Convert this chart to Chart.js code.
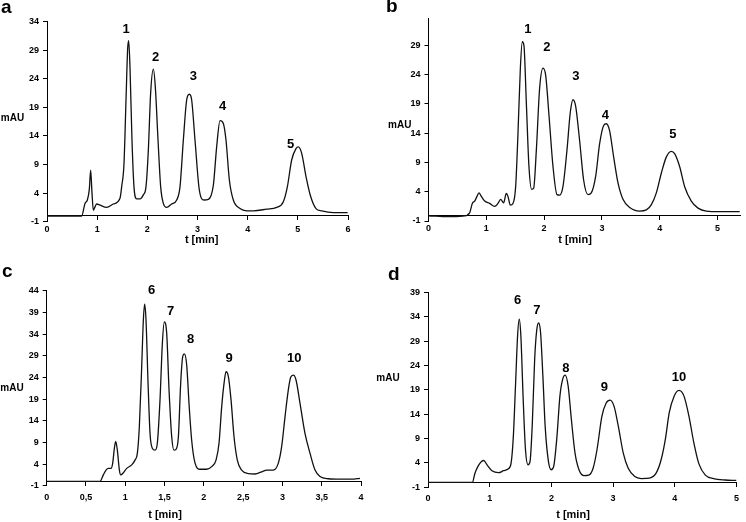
<!DOCTYPE html>
<html>
<head>
<meta charset="utf-8">
<script src="https://cdn.jsdelivr.net/npm/chart.js@4/dist/chart.umd.min.js"></script>
<style>
  body { margin: 0; background: #fff; }
  #wrap { position: relative; width: 746px; height: 522px; }
  canvas { position: absolute; }
</style>
</head>
<body>
<div id="wrap">
  <canvas id="panelA" width="373" height="255" style="left:0;top:0"></canvas>
  <canvas id="panelB" width="373" height="255" style="left:373px;top:0"></canvas>
  <canvas id="panelC" width="373" height="267" style="left:0;top:255px"></canvas>
  <canvas id="panelD" width="373" height="267" style="left:373px;top:255px"></canvas>
</div>
<script>
// chromatogram traces (t in min, signal in mAU)
const timeA = [0, 0.69, 0.757, 0.804, 0.844, 0.87, 0.897, 0.924, 0.957, 0.99, 1.056, 1.189, 1.322, 1.455, 1.488, 1.535, 1.575, 1.608, 1.628, 1.654, 1.694, 1.734, 1.787, 1.854, 1.92, 1.973, 2.02, 2.066, 2.12, 2.159, 2.213, 2.266, 2.319, 2.385, 2.485, 2.585, 2.651, 2.718, 2.784, 2.837, 2.884, 2.95, 3.037, 3.13, 3.216, 3.316, 3.382, 3.449, 3.515, 3.568, 3.635, 3.714, 3.847, 3.98, 4.113, 4.379, 4.578, 4.711, 4.791, 4.877, 4.963, 5.01, 5.076, 5.163, 5.256, 5.362, 5.475, 5.708, 5.993];
const mauA = [0, 0, 2.2, 2.8, 4.7, 8.0, 4.0, 1.0, 1.6, 2.1, 1.9, 1.5, 2.1, 3.1, 5.1, 9.2, 20.3, 29.3, 30.7, 26.1, 13.3, 5.1, 3.0, 3.0, 3.7, 5.1, 11.5, 21.5, 25.7, 22.6, 13.3, 5.1, 2.2, 1.5, 2.1, 2.8, 5.1, 13.3, 20.3, 21.3, 20.3, 13.3, 4.5, 2.8, 2.9, 5.4, 12.1, 16.7, 16.2, 13.3, 6.3, 2.8, 1.3, 0.9, 0.9, 1.2, 1.5, 2.5, 5.1, 9.8, 11.8, 12.1, 11.0, 6.9, 3.4, 1.3, 0.9, 0.6, 0.6];

const timeB = [0, 0.35, 0.6, 0.712, 0.758, 0.799, 0.839, 0.874, 0.914, 0.972, 1.058, 1.145, 1.202, 1.249, 1.3, 1.346, 1.375, 1.416, 1.462, 1.508, 1.548, 1.589, 1.623, 1.652, 1.692, 1.738, 1.785, 1.82, 1.866, 1.923, 1.981, 2.027, 2.085, 2.154, 2.223, 2.269, 2.327, 2.396, 2.454, 2.5, 2.546, 2.615, 2.684, 2.76, 2.817, 2.892, 2.961, 3.031, 3.077, 3.134, 3.204, 3.279, 3.365, 3.481, 3.654, 3.769, 3.856, 3.942, 4.029, 4.114, 4.201, 4.259, 4.345, 4.431, 4.547, 4.663, 4.807, 5.038, 5.384];
const mauB = [-0.1, -0.25, -0.15, 0.4, 2.0, 2.4, 3.2, 3.8, 3.2, 2.4, 2.0, 1.5, 2.0, 2.7, 2.1, 3.7, 3.2, 1.7, 2.0, 4.9, 13.9, 25.0, 29.6, 28.9, 19.4, 8.3, 4.4, 4.6, 11.1, 21.7, 25.1, 23.9, 17.0, 8.3, 3.5, 3.4, 4.9, 11.1, 17.6, 19.7, 18.6, 12.7, 6.0, 3.5, 3.8, 6.6, 12.2, 15.3, 15.6, 14.4, 9.9, 5.5, 2.7, 1.3, 0.7, 0.9, 1.8, 3.8, 7.2, 9.9, 10.9, 10.5, 8.3, 4.9, 2.4, 1.2, 0.7, 0.6, 0.6];

const timeC = [0, 0.679, 0.721, 0.755, 0.785, 0.819, 0.84, 0.861, 0.878, 0.899, 0.925, 0.942, 0.976, 1.018, 1.082, 1.124, 1.154, 1.179, 1.209, 1.23, 1.247, 1.264, 1.29, 1.315, 1.345, 1.379, 1.408, 1.442, 1.472, 1.497, 1.527, 1.557, 1.591, 1.62, 1.646, 1.676, 1.705, 1.731, 1.752, 1.782, 1.811, 1.845, 1.888, 1.951, 2.036, 2.1, 2.155, 2.193, 2.227, 2.257, 2.282, 2.312, 2.346, 2.384, 2.426, 2.481, 2.566, 2.651, 2.736, 2.8, 2.884, 2.948, 2.99, 3.033, 3.075, 3.105, 3.139, 3.173, 3.224, 3.287, 3.351, 3.415, 3.478, 3.584, 3.733, 3.881, 3.987];
const mauC = [0, 0, 1.5, 2.6, 3.0, 3.0, 4.2, 7.6, 9.2, 7.2, 2.6, 1.5, 2.0, 3.0, 3.8, 4.9, 6.5, 12.6, 26.5, 37.2, 40.9, 37.2, 22.6, 11.1, 7.6, 7.2, 8.8, 18.8, 31.8, 36.8, 34.2, 21.1, 10.3, 7.2, 7.4, 10.3, 22.6, 28.8, 29.4, 26.8, 18.0, 9.5, 4.2, 2.8, 2.8, 3.4, 4.9, 8.8, 17.2, 22.6, 25.3, 24.2, 18.8, 10.3, 4.9, 2.6, 1.8, 1.7, 2.2, 2.6, 2.6, 4.2, 8.0, 14.9, 21.1, 24.0, 24.5, 23.4, 18.0, 11.1, 6.5, 2.6, 1.1, 0.6, 0.5, 0.5, 0.7];

const timeD = [0, 0.718, 0.761, 0.814, 0.867, 0.904, 0.957, 1.037, 1.144, 1.223, 1.303, 1.346, 1.383, 1.42, 1.452, 1.479, 1.505, 1.543, 1.58, 1.622, 1.654, 1.691, 1.729, 1.761, 1.793, 1.824, 1.862, 1.899, 1.952, 1.995, 2.037, 2.09, 2.138, 2.181, 2.223, 2.271, 2.324, 2.383, 2.447, 2.527, 2.606, 2.676, 2.739, 2.819, 2.888, 2.952, 3.016, 3.085, 3.165, 3.245, 3.351, 3.457, 3.59, 3.697, 3.777, 3.846, 3.91, 3.989, 4.069, 4.149, 4.229, 4.309, 4.388, 4.495, 4.628, 4.814, 5.0];
const mauD = [0, 0, 1.9, 3.4, 4.3, 4.5, 3.6, 2.4, 2.0, 2.4, 2.8, 3.9, 9.4, 20.4, 30.1, 33.5, 30.1, 17.0, 6.7, 3.6, 4.3, 12.2, 25.3, 31.1, 32.7, 30.8, 21.8, 11.5, 4.3, 2.6, 3.3, 9.4, 17.7, 21.1, 22.0, 19.8, 12.9, 6.0, 2.6, 1.4, 1.5, 2.9, 6.7, 13.6, 16.3, 16.9, 15.6, 11.5, 6.0, 2.9, 1.2, 0.8, 0.9, 1.9, 4.6, 8.8, 14.3, 17.7, 18.9, 17.7, 13.6, 8.1, 3.9, 1.5, 0.8, 0.5, 0.4];

// peak numbers and where their labels sit (t, mAU)
const peaksAB = ['1', '2', '3', '4', '5'];
const peaksCD = ['6', '7', '8', '9', '10'];
const peakTimeA = [1.575, 2.166, 2.916, 3.502, 4.857];
const peakMauA = [32.7, 27.7, 24.5, 19.25, 12.6];
const peakTimeB = [1.72, 2.05, 2.55, 3.06, 4.23];
const peakMauB = [31.7, 28.6, 23.6, 17, 13.7];
const peakTimeC = [1.335, 1.578, 1.832, 2.323, 3.15];
const peakMauC = [44.0, 39.3, 32.8, 28.4, 28.4];
const peakTimeD = [1.451, 1.766, 2.233, 2.86, 4.067];
const peakMauD = [37.3, 35.35, 23.3, 19.5, 21.5];

// tick labels
const xTicksA = [0, 1, 2, 3, 4, 5, 6];
const xTicksB = [0, 1, 2, 3, 4, 5];
const xTicksC = [0, 0.5, 1, 1.5, 2, 2.5, 3, 3.5, 4];
const xTicksD = [0, 1, 2, 3, 4, 5];
const yTicksA = [-1, 4, 9, 14, 19, 24, 29, 34];
const yTicksB = [-1, 4, 9, 14, 19, 24, 29];
const yTicksC = [-1, 4, 9, 14, 19, 24, 29, 34, 39, 44];
const yTicksD = [-1, 4, 9, 14, 19, 24, 29, 34, 39];

const FONT = '"Liberation Sans", Arial, sans-serif';

// letters, axis titles and peak numbers
const textPlugin = {
    id: 'panelText',
    afterDraw(chart) {
        const o = chart.options.plugins.panelText;
        const ctx = chart.ctx;
        const xs = chart.scales.x, ys = chart.scales.y;
        ctx.save();
        ctx.fillStyle = '#000';
        ctx.textBaseline = 'middle';

        ctx.font = 'bold 19px ' + FONT;
        ctx.textAlign = 'left';
        ctx.fillText(o.letter, o.letterPos[0], o.letterPos[1]);

        ctx.textAlign = 'center';
        ctx.font = 'bold 10px ' + FONT;
        ctx.fillText('mAU', o.mauPos[0], o.mauPos[1]);

        ctx.font = 'bold 11px ' + FONT;
        ctx.fillText('t [min]', o.titlePos[0], o.titlePos[1]);

        ctx.font = 'bold 13px ' + FONT;
        o.peaks.forEach((p, i) => {
            ctx.fillText(p, xs.getPixelForValue(o.peakT[i]), ys.getPixelForValue(o.peakY[i]));
        });
        ctx.restore();
    }
};

function makePanel(id, cfg) {
    const points = cfg.t.map((t, i) => ({ x: t, y: cfg.y[i] }));
    const tickFont = { family: FONT, size: 9, weight: 'bold' };
    new Chart(document.getElementById(id), {
        type: 'line',
        data: {
            datasets: [{
                data: points,
                borderColor: '#111',
                borderWidth: 1.3,
                pointRadius: 0,
                cubicInterpolationMode: 'monotone',
                fill: false
            }]
        },
        options: {
            responsive: false,
            animation: false,
            devicePixelRatio: 1,
            layout: { padding: cfg.pad },
            plugins: {
                legend: { display: false },
                tooltip: { enabled: false },
                panelText: cfg.text
            },
            scales: {
                x: {
                    type: 'linear',
                    min: 0,
                    max: cfg.xMax,
                    position: { y: 0 },
                    afterBuildTicks: s => { s.ticks = cfg.xTicks.map(v => ({ value: v })); },
                    ticks: {
                        font: tickFont,
                        color: '#000',
                        padding: cfg.xPad,
                        autoSkip: false,
                        maxRotation: 0,
                        callback: v => String(v).replace('.', ',')
                    },
                    grid: { drawOnChartArea: false, drawTicks: true, tickLength: 4, color: '#000' },
                    border: { display: true, color: '#000', width: 1 }
                },
                y: {
                    type: 'linear',
                    min: -1,
                    max: cfg.yMax,
                    afterBuildTicks: s => { s.ticks = cfg.yTicks.map(v => ({ value: v })); },
                    afterFit: s => { s.width = cfg.yWidth; },
                    ticks: { font: tickFont, color: '#000', padding: 4, autoSkip: false },
                    grid: { drawOnChartArea: false, drawTicks: true, tickLength: 4, color: '#000' },
                    border: { display: true, color: '#000', width: 1 }
                }
            }
        },
        plugins: [textPlugin]
    });
}

makePanel('panelA', {
    t: timeA, y: mauA, xMax: 6, yMax: 34, xTicks: xTicksA, yTicks: yTicksA,
    yWidth: 47, xPad: 4, pad: { top: 21.7, right: 25, bottom: 33.3, left: 0 },
    text: { letter: 'a', letterPos: [1, 8], mauPos: [12.5, 118], titlePos: [201.7, 240],
            peaks: peaksAB, peakT: peakTimeA, peakY: peakMauA }
});
makePanel('panelB', {
    t: timeB, y: mauB, xMax: 5.4, yMax: 33.6, xTicks: xTicksB, yTicks: yTicksB,
    yWidth: 55.5, xPad: 4, pad: { top: 18.3, right: 5.4, bottom: 34, left: 0 },
    text: { letter: 'b', letterPos: [13, 7], mauPos: [26.7, 125], titlePos: [202, 240],
            peaks: peaksAB, peakT: peakTimeB, peakY: peakMauB }
});
makePanel('panelC', {
    t: timeC, y: mauC, xMax: 4, yMax: 44, xTicks: xTicksC, yTicks: yTicksC,
    yWidth: 46.7, xPad: 7, pad: { top: 35.7, right: 12, bottom: 36.3, left: 0 },
    text: { letter: 'c', letterPos: [2, 17], mauPos: [12, 133], titlePos: [165, 260],
            peaks: peaksCD, peakT: peakTimeC, peakY: peakMauC }
});
makePanel('panelD', {
    t: timeD, y: mauD, xMax: 5, yMax: 39, xTicks: xTicksD, yTicks: yTicksD,
    yWidth: 55, xPad: 7, pad: { top: 37.3, right: 4.7, bottom: 34.7, left: 0 },
    text: { letter: 'd', letterPos: [15, 20], mauPos: [15, 123], titlePos: [200, 260],
            peaks: peaksCD, peakT: peakTimeD, peakY: peakMauD }
});
</script>
</body>
</html>
